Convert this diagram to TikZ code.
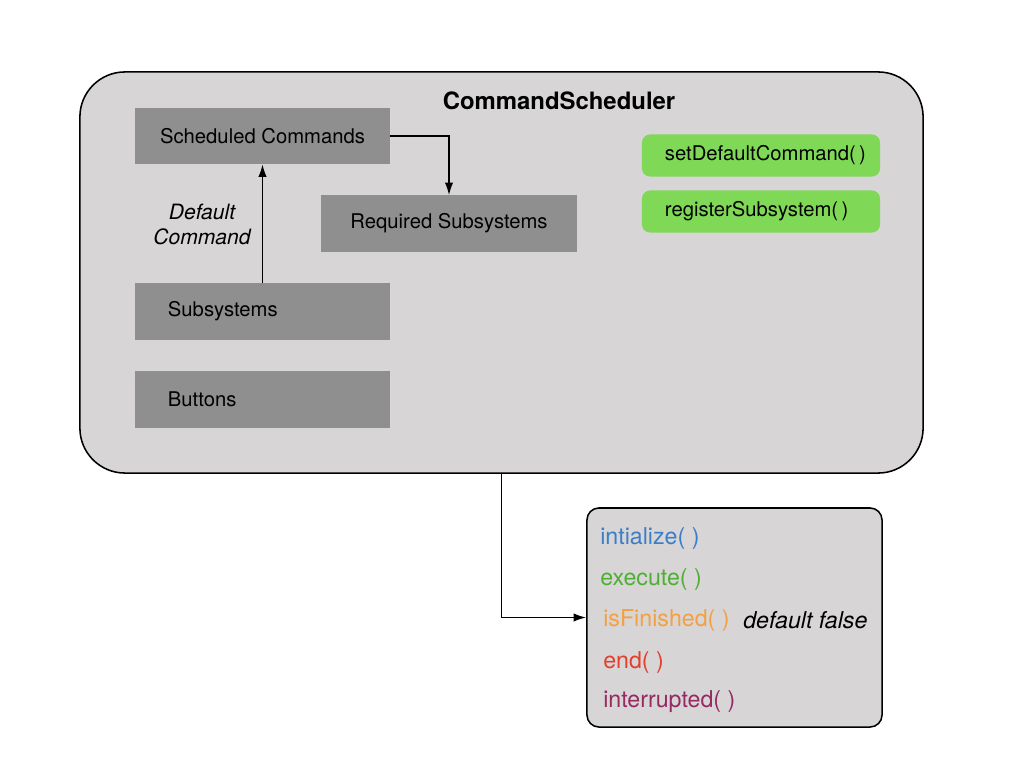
\documentclass[tikz,border=0pt]{standalone}
\usepackage{fontspec}
\setmainfont{TeX Gyre Heros}
\usepackage{xcolor}
\usetikzlibrary{arrows.meta}
\definecolor{panelgray}{HTML}{D7D5D6}
\definecolor{slotgray}{HTML}{8F8F8F}
\definecolor{methgreen}{HTML}{7FD957}
\definecolor{initblue}{HTML}{3A7DC9}
\definecolor{execgreen}{HTML}{4DB032}
\definecolor{finorange}{HTML}{F4A040}
\definecolor{endred}{HTML}{E23F2C}
\definecolor{intrpurple}{HTML}{962A63}
\tikzset{panel/.style={draw,line width=1.1pt,fill=panelgray,inner sep=0pt},
    slot/.style={fill=slotgray,minimum width=6.375cm,minimum height=1.4cm,
        inner sep=0pt,font=\fontsize{14.4}{17}\selectfont},
    leftslot/.style={slot,text width=4.725cm,align=left},
    method/.style={fill=methgreen,rounded corners=0.2cm,minimum width=5.95cm,
        minimum height=1.05cm,inner sep=0pt,text width=4.8cm,align=left,
        font=\fontsize{14.4}{17}\selectfont},
    call/.style={anchor=west,inner sep=0pt,font=\fontsize{16.5}{20}\selectfont},
    link/.style={line width=1.1pt,-{Latex[length=9pt,width=6pt]}}}

\begin{document}
\begin{tikzpicture}[x=0.025cm,y=-0.025cm]
\useasboundingbox (0,0) rectangle (1024,768);
\node[panel,rounded corners=1.125cm,minimum width=21.075cm,minimum height=10.025cm]
    (sched) at (501.5,272.5) {};
\node[font=\fontsize{17}{20}\selectfont\bfseries] (title) at (559,101) {CommandScheduler};
\node[slot] (schc) at (262.5,136) {Scheduled Commands};
\node[slot] (req) at (449,223.5) {Required Subsystems};
\node[leftslot] (subs) at (262.5,311.5) {Subsystems};
\node[leftslot] (btns) at (262.5,399.5) {Buttons};
\node[method] (setdef) at (761,155.5) {\mbox{setDefaultCommand(\,)}};
\node[method] (regsub) at (761,211.5) {\mbox{registerSubsystem(\,)}};
\node[align=center,font=\fontsize{15}{17.8}\selectfont\itshape] (deflbl) at (202,224.5)
    {Default\\Command};
\draw[link] (subs.north) -- (schc.south);
\draw[link] (schc.east) -| (req.north);

\node[panel,rounded corners=0.3cm,minimum width=7.375cm,minimum height=5.475cm]
    (cmd) at (734.5,617.5) {};
\node[call,text=initblue] (init) at (600,538) {intialize( )};
\node[call,text=execgreen] (exec) at (600,579) {execute( )};
\node[call,text=finorange] (fin) at (603,620) {isFinished( )};
\node[call,font=\fontsize{16.5}{20}\selectfont\itshape] (deffalse) at (743,620) {default false};
\node[call,text=endred] (endm) at (603,662) {end( )};
\node[call,text=intrpurple] (intr) at (603,702) {interrupted( )};
\draw[link] (sched.south) |- (cmd.west);
\end{tikzpicture}
\end{document}
